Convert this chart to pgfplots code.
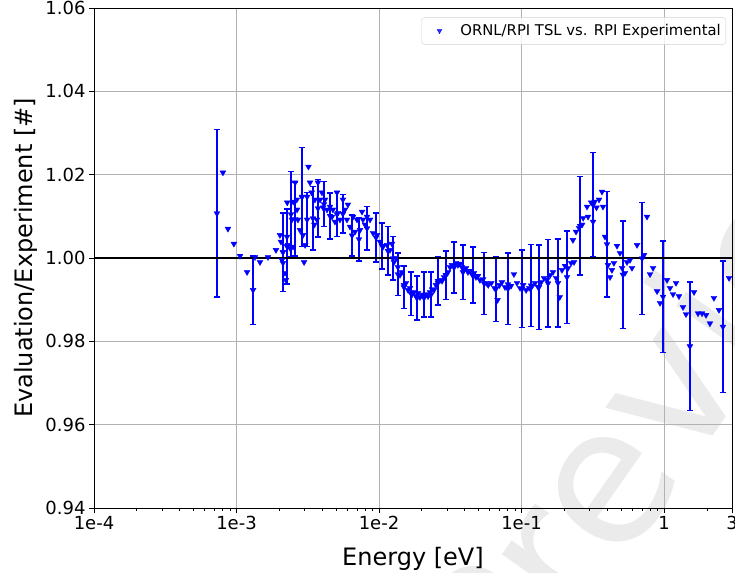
\documentclass[border=0pt]{standalone}
\usepackage{fontspec}
\setmainfont{DejaVu Sans}
\usepackage{pgfplots}
\pgfplotsset{compat=1.18}
\pgfplotstableread{
x y
8.03e-4 1.0205
8.71e-4 1.0070
9.59e-4 1.0034
1.059e-3 1.0005
1.186e-3 0.9966
1.349e-3 1.0002
1.462e-3 0.9990
1.663e-3 1.0002
1.892e-3 1.0019
2.018e-3 1.0055
2.05e-3 1.0039
2.084e-3 0.9995
2.118e-3 1.0014
2.12e-3 0.9988
2.188e-3 0.9964
2.22e-3 0.9947
2.26e-3 1.0051
2.27e-3 1.0133
2.30e-3 1.0031
2.37e-3 1.0024
2.45e-3 1.0092
2.49e-3 1.0027
2.50e-3 1.0135
2.58e-3 1.0181
2.65e-3 1.0140
2.66e-3 1.0116
2.70e-3 1.0092
2.79e-3 1.0067
2.88e-3 1.0147
2.93e-3 1.0055
2.98e-3 0.9990
3.03e-3 1.0031
3.13e-3 1.0147
3.20e-3 1.0219
3.28e-3 1.0181
3.37e-3 1.0157
3.52e-3 1.0080
3.55e-3 1.0140
3.67e-3 1.0092
3.73e-3 1.0181
3.86e-3 1.0140
3.98e-3 1.0157
4.05e-3 1.0121
4.18e-3 1.0140
4.32e-3 1.0116
4.53e-3 1.0123
4.68e-3 1.0099
4.75e-3 1.0116
4.91e-3 1.0087
5.07e-3 1.0157
5.15e-3 1.0108
5.32e-3 1.0092
5.58e-3 1.0140
5.77e-3 1.0116
5.96e-3 1.0092
6.05e-3 1.0128
6.26e-3 1.0075
6.58e-3 1.0099
6.79e-3 1.0063
7.01e-3 1.0092
7.36e-3 1.0067
7.60e-3 1.0111
7.72e-3 1.0092
7.98e-3 1.0080
8.24e-3 1.0099
8.65e-3 1.0092
9.08e-3 1.0060
9.68e-3 1.0055
1.016e-2 1.0039
1.067e-2 1.0027
1.14e-2 1.0031
1.194e-2 1.0019
1.233e-2 1.0034
1.274e-2 0.9990
1.315e-2 1.0000
1.358e-2 0.9978
1.403e-2 0.9959
1.449e-2 0.9966
1.496e-2 0.9935
1.546e-2 0.9940
1.60e-2 0.9923
1.65e-2 0.9928
1.71e-2 0.9913
1.762e-2 0.9918
1.82e-2 0.9908
1.88e-2 0.9916
1.94e-2 0.9906
2.00e-2 0.9911
2.07e-2 0.9904
2.14e-2 0.9913
2.21e-2 0.9908
2.28e-2 0.9918
2.355e-2 0.9925
2.43e-2 0.9923
2.51e-2 0.9935
2.59e-2 0.9940
2.68e-2 0.9947
2.77e-2 0.9945
2.86e-2 0.9954
2.95e-2 0.9959
3.05e-2 0.9966
3.15e-2 0.9978
3.25e-2 0.9983
3.36e-2 0.9981
3.47e-2 0.9988
3.58e-2 0.9983
3.70e-2 0.9986
3.82e-2 0.9978
3.95e-2 0.9971
4.08e-2 0.9976
4.21e-2 0.9966
4.35e-2 0.9969
4.49e-2 0.9961
4.64e-2 0.9964
4.79e-2 0.9954
4.95e-2 0.9957
5.11e-2 0.9947
5.38e-2 0.9949
5.66e-2 0.9940
5.84e-2 0.9935
6.14e-2 0.9940
6.46e-2 0.9928
6.79e-2 0.9899
7.01e-2 0.9935
7.29e-2 0.9942
7.66e-2 0.9930
8.03e-2 0.9937
8.44e-2 0.9933
8.85e-2 0.9961
9.30e-2 0.9940
9.77e-2 0.9928
0.1027 0.9935
0.1077 0.9923
0.1132 0.9928
0.1189 0.9933
0.1245 0.9940
0.1308 0.9930
0.1374 0.9942
0.1439 0.9952
0.1510 0.9947
0.1590 0.9959
0.1663 0.9966
0.1750 0.9952
0.1855 0.9906
0.1923 0.9971
0.2020 0.9981
0.2122 0.9976
0.2229 0.9988
0.2336 0.9990
0.2296 1.0043
0.2413 1.0063
0.2536 1.0072
0.2665 1.0080
0.2710 1.0096
0.2884 1.0123
0.2930 1.0099
0.3083 1.0133
0.3177 1.0087
0.3260 1.0135
0.3360 1.0121
0.3500 1.0140
0.3673 1.0159
0.3730 1.0123
0.3855 1.0051
0.4046 0.9983
0.4180 0.9954
0.4310 0.9971
0.4450 0.9988
0.4680 1.0029
0.4910 1.0012
0.5080 0.9976
0.5320 0.9964
0.5500 0.9990
0.5770 0.9995
0.5960 0.9976
0.6470 1.0031
0.7240 1.0007
0.7600 1.0099
0.7980 0.9961
0.8380 0.9976
0.8940 0.9920
0.9380 0.9892
1.050 0.9947
1.102 0.9928
1.157 0.9913
1.214 0.9940
1.274 0.9908
1.359 0.9882
1.427 0.9865
1.624 0.9918
1.733 0.9867
1.849 0.9867
1.972 0.9863
2.10 0.9843
2.24 0.9904
2.43 0.9875
2.86 0.9952
}\markers
\pgfplotstableread{
x y e
7.29e-4 1.0107 0.0201
1.307e-3 0.9923 0.0082
2.118e-3 1.0014 0.0094
2.26e-3 1.0028 0.0090
2.41e-3 1.0105 0.0102
2.58e-3 1.0093 0.0088
2.88e-3 1.0146 0.0119
3.13e-3 1.0092 0.0065
3.44e-3 1.0095 0.0076
3.73e-3 1.0119 0.0069
4.11e-3 1.0129 0.0054
4.53e-3 1.0101 0.0055
5.07e-3 1.0105 0.0054
5.58e-3 1.0106 0.0046
6.47e-3 1.0054 0.0049
7.24e-3 1.0045 0.0052
8.24e-3 1.0071 0.0052
9.53e-3 1.0049 0.0059
1.050e-2 1.0029 0.0055
1.156e-2 1.0017 0.0058
1.253e-2 0.9999 0.0052
1.358e-2 0.9961 0.0051
1.496e-2 0.9930 0.0051
1.68e-2 0.9914 0.0052
1.849e-2 0.9904 0.0053
2.07e-2 0.9912 0.0054
2.32e-2 0.9912 0.0054
2.59e-2 0.9945 0.0058
2.95e-2 0.9959 0.0058
3.36e-2 0.9977 0.0061
3.88e-2 0.9966 0.0065
4.57e-2 0.9959 0.0067
5.46e-2 0.9939 0.0074
6.62e-2 0.9926 0.0078
8.03e-2 0.9926 0.0086
0.101 0.9926 0.0093
0.1167 0.9934 0.0098
0.1327 0.9930 0.0101
0.1535 0.9939 0.0105
0.1803 0.9940 0.0106
0.2085 0.9954 0.0111
0.2576 1.0077 0.0118
0.3177 1.0128 0.0125
0.398 1.0033 0.0127
0.515 0.9960 0.0129
0.702 0.9999 0.0134
0.984 0.9907 0.0134
1.52 0.9788 0.0154
2.59 0.9835 0.0158
}\errpts
\begin{document}
\begin{tikzpicture}
\node[anchor=base west, rotate=55, inner sep=0pt, text=black!8, font=\fontsize{190bp}{190bp}\selectfont] at (420bp,-212bp) {Preview};
\begin{axis}[at={(0,0)}, anchor=south west,
  scale only axis, width=638bp, height=500bp,
  xmode=log, xmin=1e-4, xmax=3, ymin=0.94, ymax=1.06,
  xtick={1e-4,1e-3,1e-2,1e-1,1,3},
  xticklabels={1e-4,1e-3,1e-2,1e-1,1,3},
  minor xtick={2e-4,3e-4,4e-4,5e-4,6e-4,7e-4,8e-4,9e-4,2e-3,3e-3,4e-3,5e-3,6e-3,7e-3,8e-3,9e-3,2e-2,3e-2,4e-2,5e-2,6e-2,7e-2,8e-2,9e-2,0.2,0.3,0.4,0.5,0.6,0.7,0.8,0.9,2},
  ytick={0.94,0.96,0.98,1.00,1.02,1.04,1.06},
  yticklabel style={/pgf/number format/.cd, fixed, fixed zerofill, precision=2},
  /pgf/number format/assume math mode=true,
  ticklabel style={font=\fontsize{18bp}{20bp}\selectfont},
  grid=major, major grid style={draw=black!30, line width=0.8bp},
  tick align=outside, tick pos=left,
  major tick length=5bp, minor tick length=3bp,
  every tick/.style={black, line width=0.8bp},
  axis line style={black, line width=0.8bp},
  xlabel={Energy [eV]}, ylabel={Evaluation/Experiment [\#]},
  label style={font=\fontsize{24bp}{28bp}\selectfont},
  xlabel style={at={(axis description cs:0.5,0)}, anchor=base, yshift=-57bp},
  ylabel style={at={(axis description cs:-0.0956,0.5)}, anchor=base, rotate=0},
  legend style={at={(axis description cs:0.9906,0.9812)}, anchor=north east,
    draw=black!18, rounded corners=3bp, fill=white, fill opacity=0.8, text opacity=1,
    font=\fontsize{14.8bp}{17bp}\selectfont, inner xsep=3bp, inner ysep=5bp},
  legend cell align=left,
  legend image code/.code={\path[draw=none, fill=none] (0bp,0bp) -- (34bp,0bp); \draw[#1] plot coordinates {(15bp,0bp)};},
]
\addlegendimage{only marks, mark=triangle*, mark size=2.6bp, mark options={rotate=180, fill=blue, draw=blue}}
\addlegendentry{ORNL/RPI TSL vs. RPI Experimental}
\addplot[only marks, mark=triangle*, mark size=3.4bp, mark options={rotate=180, fill=blue, draw=blue, line width=0.3bp}, forget plot] table[x=x,y=y]{\markers};
\addplot[only marks, mark=triangle*, mark size=3.4bp, mark options={rotate=180, fill=blue, draw=blue, line width=0.3bp}, forget plot,
  error bars/.cd, y dir=both, y explicit,
  error bar style={draw=blue, line width=1.4bp},
  error mark options={rotate=90, draw=blue, mark size=3bp, line width=1.4bp}] table[x=x,y=y,y error=e]{\errpts};
\addplot[black, line width=1.6bp, forget plot] coordinates {(1e-4,1) (3,1)};
\end{axis}
\pgfresetboundingbox
\path[use as bounding box] (-94bp,-65bp) rectangle (641bp,508bp);
\end{tikzpicture}
\end{document}
